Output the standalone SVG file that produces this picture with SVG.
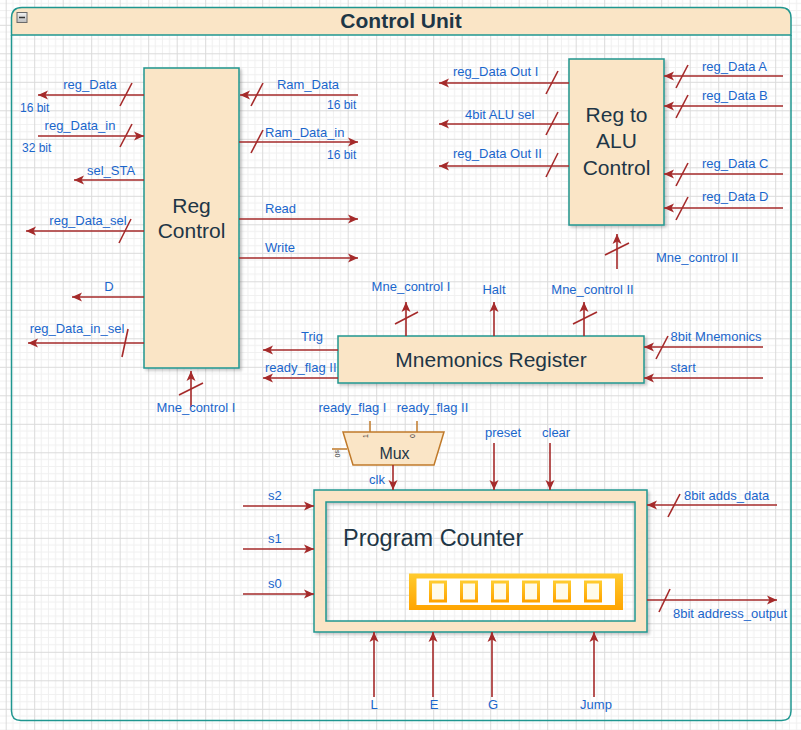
<svg xmlns="http://www.w3.org/2000/svg" width="801" height="730" viewBox="0 0 801 730">
<defs>
<pattern id="grid" x="5.7" y="24.8" width="28.5" height="28.5" patternUnits="userSpaceOnUse">
<path d="M7.125,0V28.5M14.25,0V28.5M21.375,0V28.5M0,7.125H28.5M0,14.25H28.5M0,21.375H28.5" stroke="#f0f0f0" stroke-width="1" fill="none"/>
<path d="M0.5,0V28.5M0,0.5H28.5" stroke="#dadada" stroke-width="1" fill="none"/>
</pattern>
<marker id="ah" markerWidth="11" markerHeight="10" refX="10" refY="5" orient="auto" markerUnits="userSpaceOnUse">
<path d="M0,0.5 L10,5 L0,9.5 L2.5,5 z" fill="#a52a2a"/>
</marker>
<linearGradient id="og" x1="0" y1="0" x2="0" y2="1">
<stop offset="0" stop-color="#ffcb2e"/>
<stop offset="1" stop-color="#ffa400"/>
</linearGradient>
<linearGradient id="mg" x1="0" y1="0" x2="0" y2="1">
<stop offset="0" stop-color="#f2f2f2"/>
<stop offset="1" stop-color="#bdbdbd"/>
</linearGradient>
<filter id="sh" x="-10%" y="-10%" width="130%" height="130%">
<feDropShadow dx="2" dy="2" stdDeviation="1.5" flood-color="#000" flood-opacity="0.22"/>
</filter>
</defs>
<style>
.box{fill:#fae5c6;stroke:#1f9690;stroke-width:1.5}
.nt{font-family:"Liberation Sans",Arial,sans-serif;fill:#1e3646;text-anchor:middle}
.lb{font-family:"Liberation Sans",Arial,sans-serif;font-size:13px;fill:#1a66cc}
.sm{font-size:12px}
.c{text-anchor:middle}
.cn path{fill:none;stroke:#a52a2a;stroke-width:1.6}
.cn path.a{marker-end:url(#ah)}
.mx{fill:none;stroke:#c07a2a;stroke-width:1.5}
</style>
<rect width="801" height="730" fill="#ffffff"/>
<rect width="801" height="730" fill="url(#grid)"/>

<g id="container">
<path d="M11.5,35 V18 Q11.5,7.5 22,7.5 H780.5 Q791,7.5 791,18 V35 Z" fill="#fae5c6" stroke="#1f9690" stroke-width="1.5"/>
<path d="M11.5,35 V711 Q11.5,720.5 21,720.5 H781.5 Q791,720.5 791,711 V35" fill="none" stroke="#1f9690" stroke-width="1.5"/>
<rect x="17" y="12.5" width="10" height="10" fill="url(#mg)" stroke="#6a6a6a" stroke-width="1"/>
<path d="M19,17.5 H25" stroke="#333" stroke-width="1.5"/>
<text x="401" y="28" class="nt" font-size="21" font-weight="bold" fill="#1b3340">Control Unit</text>
</g>

<g id="reg-control">
<rect x="144" y="68" width="95" height="300" class="box" filter="url(#sh)"/>
<text x="191.5" y="213" class="nt" font-size="21">Reg</text>
<text x="191.5" y="238" class="nt" font-size="21">Control</text>
</g>

<g id="reg-to-alu-control">
<rect x="569" y="59" width="95" height="166" class="box" filter="url(#sh)"/>
<text x="616.5" y="122" class="nt" font-size="21">Reg to</text>
<text x="616.5" y="148" class="nt" font-size="21">ALU</text>
<text x="616.5" y="175" class="nt" font-size="21">Control</text>
</g>

<g id="mnemonics-register">
<rect x="338" y="336" width="306" height="47" class="box" filter="url(#sh)"/>
<text x="491" y="367" class="nt" font-size="21">Mnemonics Register</text>
</g>

<g id="mux">
<path d="M370,421 V432 M417,421 V432 M332,449 H347" class="mx"/>
<polygon points="343,432 444,432 434,465 353,465" fill="#fae5c6" stroke="#c07a2a" stroke-width="1.5"/>
<text x="394.5" y="459" class="nt" font-size="16">Mux</text>
<text x="0" y="0" font-family="'Liberation Sans',Arial,sans-serif" font-size="7" fill="#333" transform="translate(368,438) rotate(-90)">1</text>
<text x="0" y="0" font-family="'Liberation Sans',Arial,sans-serif" font-size="7" fill="#333" transform="translate(415,438) rotate(-90)">0</text>
<text x="0" y="0" font-family="'Liberation Sans',Arial,sans-serif" font-size="7" fill="#333" transform="translate(335,450) rotate(90)">s0</text>
</g>

<g id="program-counter">
<path d="M314,490 H647 V632 H314 Z M326,502 V621 H635 V502 Z" fill="#fae5c6" fill-rule="evenodd" stroke="#1f9690" stroke-width="1.5" filter="url(#sh)"/>
<text x="343" y="546" font-family="'Liberation Sans',Arial,sans-serif" font-size="23.5" fill="#1e3646">Program Counter</text>
<rect x="409" y="573.5" width="214" height="36.5" fill="url(#og)"/>
<rect x="416.5" y="578.5" width="198.5" height="26.5" fill="#ffffff"/>
<g fill="#fffbea" stroke="url(#og)" stroke-width="3">
<rect x="430.5" y="582" width="15" height="19"/>
<rect x="461.5" y="582" width="15" height="19"/>
<rect x="492.5" y="582" width="15" height="19"/>
<rect x="523.5" y="582" width="15" height="19"/>
<rect x="554.5" y="582" width="15" height="19"/>
<rect x="585.5" y="582" width="15" height="19"/>
</g>
</g>

<g id="connectors" class="cn">
<path class="a" d="M144,95 H38"/><path d="M120,106 L132,83"/>
<path class="a" d="M38,136 H144"/><path d="M120,147 L132,124"/>
<path class="a" d="M144,180 H74"/>
<path class="a" d="M144,231 H26"/><path d="M119,243 L131,219"/>
<path class="a" d="M144,297 H72"/>
<path class="a" d="M144,343 H28"/><path d="M122,357 L128,329"/>
<path class="a" d="M191,407 V371"/><path d="M179,395 L203,383"/>
<path class="a" d="M358,95 H240"/><path d="M251,106 L263,83"/>
<path class="a" d="M239,142 H358"/><path d="M251,153 L263,130"/>
<path class="a" d="M239,219 H358"/>
<path class="a" d="M239,258 H358"/>

<path class="a" d="M569,83 H439"/><path d="M546,94 L558,71"/>
<path class="a" d="M569,124 H439"/><path d="M546,135 L558,112"/>
<path class="a" d="M569,166 H439"/><path d="M546,177 L558,153"/>
<path class="a" d="M783,76 H664"/><path d="M676,88 L688,65"/>
<path class="a" d="M783,106 H664"/><path d="M676,118 L688,95"/>
<path class="a" d="M783,174 H664"/><path d="M676,186 L688,163"/>
<path class="a" d="M783,208 H664"/><path d="M676,220 L688,197"/>
<path class="a" d="M617,269 V234"/><path d="M605,255 L629,243"/>

<path class="a" d="M406,336 V302"/><path d="M395,324 L418,312"/>
<path class="a" d="M494,336 V302"/>
<path class="a" d="M584,336 V302"/><path d="M573,324 L597,312"/>
<path class="a" d="M763,347 H644"/><path d="M656,359 L668,336"/>
<path class="a" d="M763,378 H644"/>
<path class="a" d="M338,350 H263"/>
<path class="a" d="M338,378 H263"/>

<path class="a" d="M393,465 V490"/>
<path class="a" d="M494,443 V490"/>
<path class="a" d="M550,443 V490"/>
<path class="a" d="M243,506 H314"/>
<path class="a" d="M243,549 H314"/>
<path class="a" d="M243,594 H314"/>
<path class="a" d="M777,505 H647"/><path d="M668,517 L680,494"/>
<path class="a" d="M647,600 H777"/><path d="M659,612 L670,589"/>
<path class="a" d="M374,697 V632"/>
<path class="a" d="M433,697 V632"/>
<path class="a" d="M492,697 V632"/>
<path class="a" d="M594,697 V632"/>
</g>

<g id="labels">
<text x="90" y="89" class="lb c">reg_Data</text>
<text x="20" y="112" class="lb sm">16 bit</text>
<text x="80" y="130" class="lb c">reg_Data_in</text>
<text x="22" y="152" class="lb sm">32 bit</text>
<text x="111" y="175" class="lb c">sel_STA</text>
<text x="88" y="225" class="lb c">reg_Data_sel</text>
<text x="109" y="291" class="lb c">D</text>
<text x="77" y="333" class="lb c">reg_Data_in_sel</text>
<text x="196" y="412" class="lb c">Mne_control I</text>
<text x="308" y="89" class="lb c">Ram_Data</text>
<text x="327" y="109" class="lb sm">16 bit</text>
<text x="265" y="137" class="lb">Ram_Data_in</text>
<text x="327" y="159" class="lb sm">16 bit</text>
<text x="265" y="213" class="lb">Read</text>
<text x="265" y="252" class="lb">Write</text>

<text x="453" y="75.5" class="lb">reg_Data Out I</text>
<text x="465" y="119" class="lb">4bit ALU sel</text>
<text x="453" y="157.5" class="lb">reg_Data Out II</text>
<text x="702" y="71" class="lb">reg_Data A</text>
<text x="702" y="100" class="lb">reg_Data B</text>
<text x="702" y="167.5" class="lb">reg_Data C</text>
<text x="702" y="201" class="lb">reg_Data D</text>
<text x="656" y="262" class="lb">Mne_control II</text>

<text x="411" y="291" class="lb c">Mne_control I</text>
<text x="494" y="294" class="lb c">Halt</text>
<text x="592.5" y="294" class="lb c">Mne_control II</text>
<text x="670.5" y="341" class="lb">8bit Mnemonics</text>
<text x="670.5" y="372" class="lb">start</text>
<text x="312" y="341" class="lb c">Trig</text>
<text x="265" y="372" class="lb">ready_flag II</text>

<text x="352.5" y="412" class="lb c">ready_flag I</text>
<text x="432.5" y="412" class="lb c">ready_flag II</text>
<text x="369" y="483.5" class="lb">clk</text>
<text x="485" y="437" class="lb">preset</text>
<text x="542" y="437" class="lb">clear</text>
<text x="268" y="500" class="lb">s2</text>
<text x="268" y="543" class="lb">s1</text>
<text x="268" y="588" class="lb">s0</text>
<text x="684" y="499.5" class="lb">8bit adds_data</text>
<text x="673" y="618" class="lb">8bit address_output</text>
<text x="374" y="709" class="lb c">L</text>
<text x="434" y="709" class="lb c">E</text>
<text x="493" y="709" class="lb c">G</text>
<text x="596" y="709" class="lb c">Jump</text>
</g>
</svg>
